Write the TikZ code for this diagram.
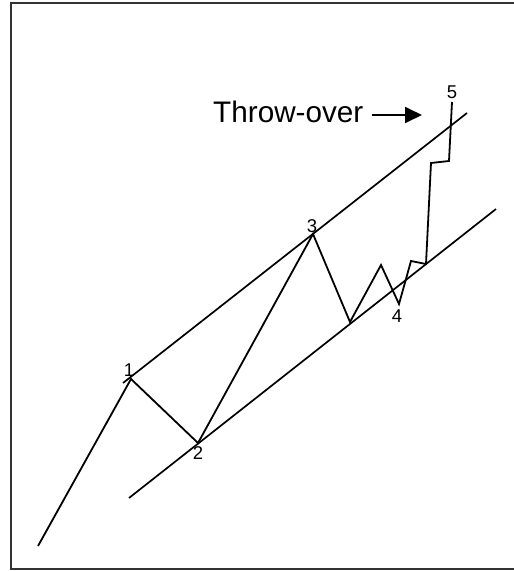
\documentclass[tikz,border=0pt]{standalone}
\usepackage{fontspec}
\setmainfont{Liberation Sans}
\usetikzlibrary{arrows.meta}
\begin{document}
\begin{tikzpicture}[x=1pt,y=-1pt,
  wave/.style={line width=1.8pt,line join=miter,black},
  chan/.style={line width=1.7pt,black},
  lbl/.style={font=\fontsize{18.5}{18.5}\selectfont,inner sep=0pt},
  frame/.style={line width=2pt,black!80}]
\useasboundingbox (0,0) rectangle (514,571);
\draw[frame] (520,3) -- (11,3) -- (11,569) -- (520,569);
% wave points
\coordinate (s) at (38,546);
\coordinate (p1) at (131,379);
\coordinate (p2) at (198,443);
\coordinate (p3) at (313,234);
\coordinate (a) at (350,322);
\coordinate (b) at (381,265);
\coordinate (p4) at (399,304);
\coordinate (c) at (411,261);
\coordinate (d) at (426,264);
\coordinate (e) at (431,163);
\coordinate (f) at (449,161);
\coordinate (p5) at (452,102);
% channel lines
\coordinate (u1) at (123,383);
\coordinate (u2) at (467,113);
\coordinate (l1) at (129,498);
\coordinate (l2) at (496,209);
\draw[chan] (u1) -- (u2);
\draw[chan] (l1) -- (l2);
\draw[wave] (s) -- (p1) -- (p2) -- (p3) -- (a) -- (b) -- (p4) -- (c) -- (d) -- (e) -- (f) -- (p5);
% labels
\node[lbl] (n1) at (129,370) {1};
\node[lbl] (n2) at (198,453) {2};
\node[lbl] (n3) at (312,226) {3};
\node[lbl] (n4) at (397,316) {4};
\node[lbl] (n5) at (452,92) {5};
\node[inner sep=0pt,anchor=base west,font=\fontsize{29.7}{30}\selectfont] (t) at (213,122) {Throw-over};
\coordinate (ar) at (422,115);
\draw[line width=1.8pt,-{Triangle[length=17pt,width=16pt]}] ([xshift=8pt]t.east |- ar) -- (ar);
\end{tikzpicture}
\end{document}
